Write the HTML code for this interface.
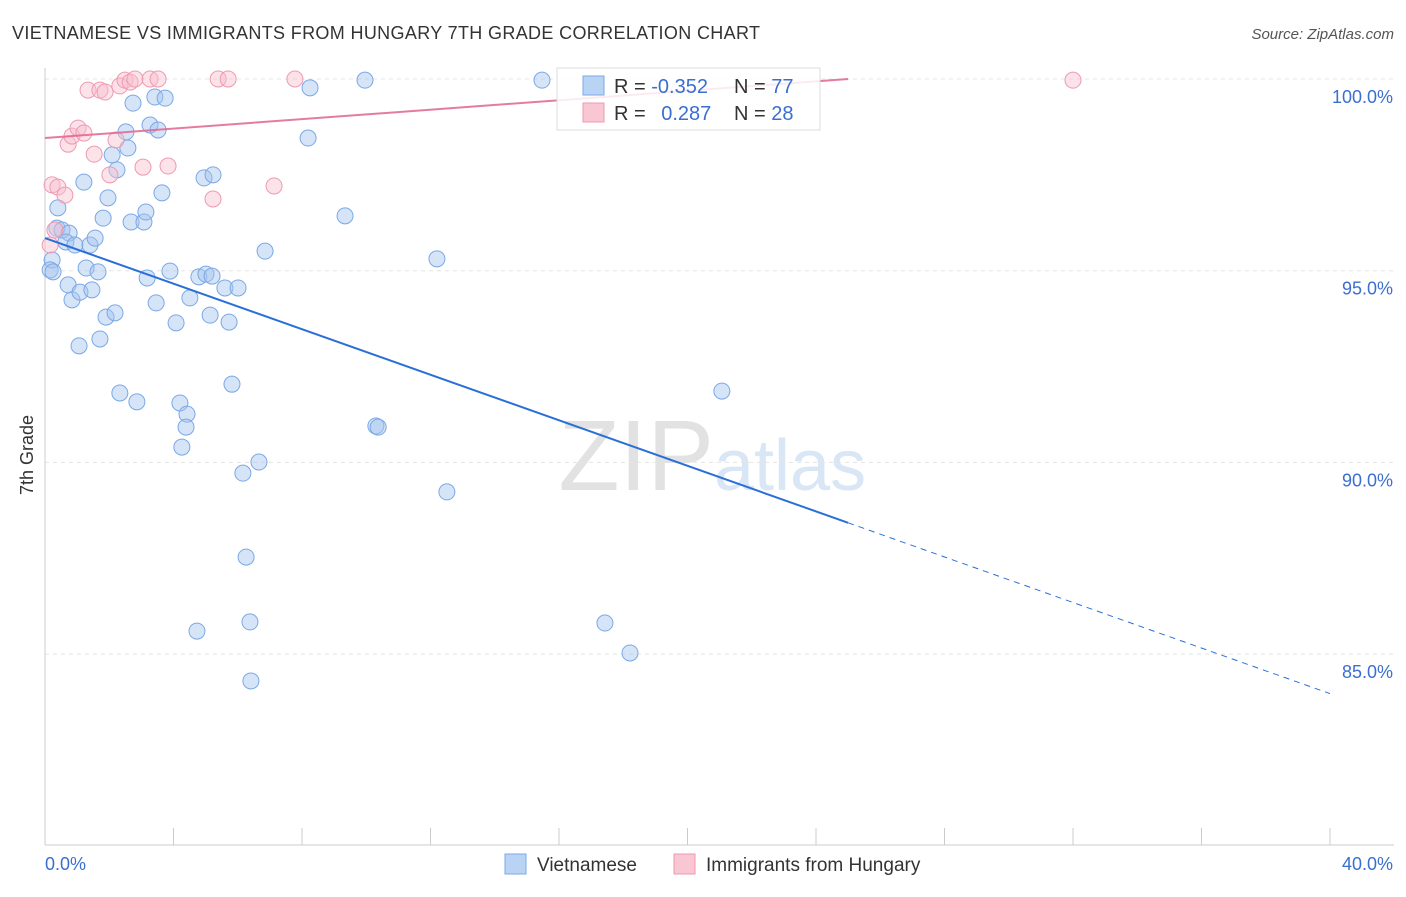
<!DOCTYPE html>
<html><head><meta charset="utf-8"><style>
body{margin:0;background:#fff;font-family:"Liberation Sans",sans-serif}
svg text{font-family:"Liberation Sans",sans-serif}
</style></head><body>
<svg id="c" width="1406" height="892">
<text x="12" y="39" font-size="18" fill="#333" textLength="748">VIETNAMESE VS IMMIGRANTS FROM HUNGARY 7TH GRADE CORRELATION CHART</text>
<text x="1394" y="39" font-size="15" fill="#555" font-style="italic" text-anchor="end">Source: ZipAtlas.com</text>
<text x="33" y="455" font-size="18" fill="#333" transform="rotate(-90 33 455)" text-anchor="middle">7th Grade</text>
<text x="714" y="490" font-size="100" fill="#e2e2e2" text-anchor="end" font-family="Liberation Serif">ZIP</text>
<text x="714" y="490" font-size="72" fill="#d9e6f6">atlas</text>
<g id="grid"></g><g id="pts"></g>
<g id="lines"></g>
<g>
<rect x="557" y="68" width="263" height="62" fill="rgba(255,255,255,0.85)" stroke="#ddd"/>
<rect x="583" y="76" width="21" height="19" fill="#b9d3f5" stroke="#7aa8e6"/>
<rect x="583" y="103" width="21" height="19" fill="#f9c6d3" stroke="#ee9ab2"/>
<text x="614" y="93" font-size="20" fill="#333">R = <tspan fill="#3a6fd0">-0.352</tspan></text>
<text x="734" y="93" font-size="20" fill="#333">N = <tspan fill="#3a6fd0">77</tspan></text>
<text x="614" y="120" font-size="20" fill="#333">R = <tspan fill="#3a6fd0" dx="10">0.287</tspan></text>
<text x="734" y="120" font-size="20" fill="#333">N = <tspan fill="#3a6fd0">28</tspan></text>
</g>
<g>
<rect x="505" y="854" width="21" height="20" fill="#b9d3f5" stroke="#7aa8e6"/>
<text x="537" y="871" font-size="19" fill="#333">Vietnamese</text>
<rect x="674" y="854" width="21" height="20" fill="#f9c6d3" stroke="#ee9ab2"/>
<text x="706" y="871" font-size="19" fill="#333">Immigrants from Hungary</text>
</g>
</svg>
<script>
const xTicks=[0,40];
const yTicks=[100,95,90,85];
const blueX=[.22,.16,.25,.40,.37,.53,.75,.65,.93,.72,.84,1.09,1.06,1.21,1.28,1.46,1.40,1.56,1.65,1.71,1.81,1.90,1.96,2.18,2.09,2.24,2.33,2.52,2.58,2.68,2.74,2.86,3.08,3.14,3.18,3.27,3.42,3.52,3.46,3.64,3.74,3.89,4.08,4.20,4.42,4.39,4.26,4.51,4.73,4.79,4.95,5.01,5.14,5.23,5.20,5.60,5.73,6.01,5.82,6.16,6.26,6.38,6.41,6.66,6.85,8.19,8.25,9.34,9.96,10.30,10.37,12.20,12.51,15.47,17.43,18.21,21.07];
const blueY=[95.28,95.02,94.97,96.64,96.11,96.06,95.98,95.75,95.67,94.63,94.24,94.44,93.04,97.31,95.07,94.50,95.67,95.85,94.97,93.22,96.37,93.79,96.90,93.90,98.02,97.63,91.81,98.62,98.20,96.27,99.37,91.58,96.27,96.53,94.81,98.80,99.53,98.67,94.16,97.03,99.50,94.99,93.64,91.55,91.26,90.92,90.40,94.29,85.60,94.84,97.42,94.91,93.84,97.50,94.86,94.55,93.66,94.55,92.04,89.72,87.53,85.84,84.30,90.01,95.51,98.46,99.77,96.43,99.97,90.95,90.92,95.31,89.23,99.97,85.81,85.03,91.86];
const pinkX=[.22,.40,.31,.62,.72,.84,1.03,1.21,1.34,1.53,1.71,1.87,2.02,2.21,2.33,2.49,2.65,2.80,3.05,3.27,3.52,3.83,5.23,5.39,5.70,7.13,7.78,32.0,.16];
const pinkY=[97.24,97.18,96.06,96.97,98.30,98.51,98.72,98.59,99.71,98.04,99.71,99.66,97.50,98.41,99.82,99.97,99.92,100,97.70,100,100,97.73,96.87,100,100,97.21,100,99.97,95.67];
const blueTrend=[95.85,-0.297]; // intercept, slope
const pinkTrend=[98.46,0.0616];
const NS='http://www.w3.org/2000/svg';
const X=v=>45+v*1285/40, Y=v=>79+(100-v)*191.7/5;
function mk(t,a,p){const e=document.createElementNS(NS,t);for(const k in a)e.setAttribute(k,a[k]);p.appendChild(e);return e;}
const g=document.getElementById('grid');
yTicks.forEach(v=>{const l=mk('line',{x1:45,x2:1394,y1:Y(v),y2:Y(v),stroke:'#e4e4e4','stroke-dasharray':'4 4'},g);


const t=mk('text',{x:1393,y:Y(v)+24,'font-size':18,fill:'#3a6fd0','text-anchor':'end'},g);t.textContent=v.toFixed(1)+'%';

});
const ax=mk('line',{x1:45,x2:45,y1:68,y2:845,stroke:'#ccc'},g);


const bx=mk('line',{x1:45,x2:1394,y1:845,y2:845,stroke:'#ccc'},g);


for(let i=0;i<=10;i++){const tk=mk('line',{x1:X(i*4),x2:X(i*4),y1:828,y2:845,stroke:'#ccc'},g);

}
xTicks.forEach((v,i)=>{const t=mk('text',{x:i?1393:45,y:870,'font-size':18,fill:'#3a6fd0','text-anchor':i?'end':'start'},g);t.textContent=v.toFixed(1)+'%';

});
const p=document.getElementById('pts');
blueX.forEach((v,i)=>{const c=mk('circle',{cx:X(v),cy:Y(blueY[i]),r:8,fill:'rgba(165,196,240,0.45)',stroke:'#7aa8e6','stroke-width':1},p);

});
pinkX.forEach((v,i)=>{const c=mk('circle',{cx:X(v),cy:Y(pinkY[i]),r:8,fill:'rgba(248,190,206,0.45)',stroke:'#ee9ab2','stroke-width':1},p);

});
const L=document.getElementById('lines');
const by=x=>blueTrend[0]+blueTrend[1]*x, py=x=>pinkTrend[0]+pinkTrend[1]*x;
const b1=mk('line',{x1:X(0),y1:Y(by(0)),x2:X(25),y2:Y(by(25)),stroke:'#2a6fd8','stroke-width':2},L);


const b2=mk('line',{x1:X(25),y1:Y(by(25)),x2:X(40),y2:Y(by(40)),stroke:'#2a6fd8','stroke-width':1,'stroke-dasharray':'6 5'},L);


const p1=mk('line',{x1:X(0),y1:Y(py(0)),x2:X(25),y2:Y(py(25)),stroke:'#e0658e','stroke-width':2,'stroke-opacity':0.85},L);


</script>
</body></html>
